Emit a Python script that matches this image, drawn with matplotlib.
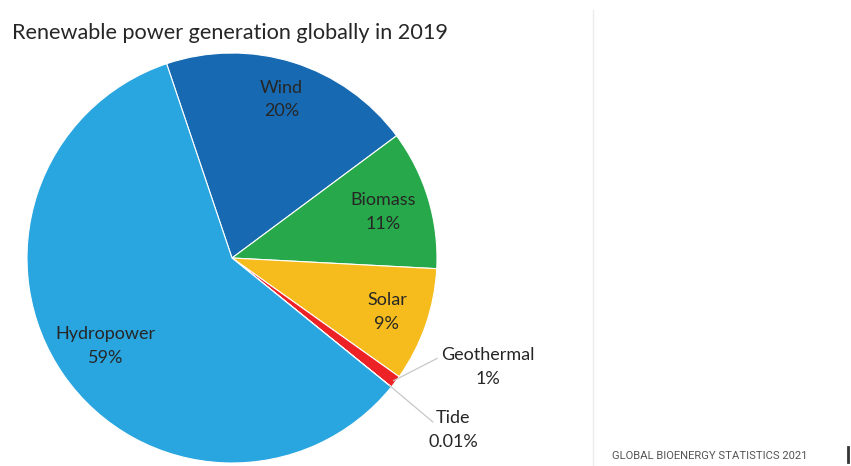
import numpy as np
import matplotlib
matplotlib.use('Agg')
from matplotlib import pyplot as plt

sources = ['Wind', 'Biomass', 'Solar', 'Geothermal', 'Tide', 'Hydropower']
shares = [20, 11, 9, 1, 0.01, 59]
pct_labels = ['20%', '11%', '9%', '1%', '0.01%', '59%']
colors = ['#1769b1', '#27a84a', '#f6bc1d', '#ec2227', '#8e5ea2', '#29a5df']

plt.rcParams['font.family'] = ['Lato', 'DejaVu Sans']
txt = '#262626'

W, H = 851, 466
fig = plt.figure(figsize=(W / 100, H / 100), dpi=100)

# pie centre (232,258) px, radius 205 px
cx, cy, r = 232, 258, 205
ax = fig.add_axes([(cx - r) / W, (H - cy - r) / H, 2 * r / W, 2 * r / H])
wedges, _ = ax.pie(shares, colors=colors, startangle=108.6, counterclock=False,
                   radius=1, wedgeprops=dict(edgecolor='white', linewidth=0.8))
ax.set_xlim(-1, 1)
ax.set_ylim(-1, 1)
ax.set_aspect('equal')
ax.axis('off')

# labels inside the big slices
dist = {'Wind': 0.81, 'Biomass': 0.77, 'Solar': 0.8, 'Hydropower': 0.75}
for w, name, p in zip(wedges, sources, pct_labels):
    if name not in dist:
        continue
    a = np.deg2rad((w.theta1 + w.theta2) / 2)
    d = dist[name]
    ax.text(d * np.cos(a), d * np.sin(a), name + '\n' + p, ha='center', va='center',
            fontsize=13, color=txt, linespacing=1.6)

# small slices: labels outside with leader lines
outside = {'Geothermal': ((1.0, -0.49), (1.25, -0.53)),
           'Tide': ((0.98, -0.80), (1.08, -0.84))}
for w, name, p in zip(wedges, sources, pct_labels):
    if name not in outside:
        continue
    a = np.deg2rad((w.theta1 + w.theta2) / 2)
    (lx, ly), (tx, ty) = outside[name]
    ax.plot([0.99 * np.cos(a), lx], [0.99 * np.sin(a), ly], color='#c8c8c8', lw=0.9,
            clip_on=False)
    ax.text(tx, ty, name + '\n' + p, ha='center', va='center', fontsize=13,
            color=txt, linespacing=1.6)

fig.text(12 / W, 1 - 33 / H, 'Renewable power generation globally in 2019', ha='left',
         va='center', fontsize=15.6, color=txt)

# divider and footer
fig.add_artist(plt.Line2D([593 / W, 593 / W], [0, 1 - 10 / H], color='#ececec', lw=1))
fig.text(612 / W, 1 - 456 / H, 'GLOBAL BIOENERGY STATISTICS 2021', ha='left', va='center',
         fontsize=8.1, color='#555555', family=['Roboto', 'DejaVu Sans'])
fig.add_artist(plt.Line2D([848 / W, 848 / W], [1 - 462 / H, 1 - 447 / H], color='#333333',
                          lw=2))

fig.savefig('out.png', dpi=100)
